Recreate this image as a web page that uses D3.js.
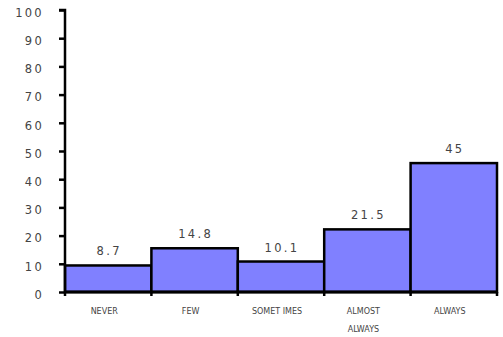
<!DOCTYPE html>
<html>
<head>
<meta charset="utf-8">
<script src="https://cdn.jsdelivr.net/npm/d3@7"></script>
<style>
  html, body { margin: 0; padding: 0; background: #fff; }
  svg { display: block; }
  text { font-family: "DejaVu Sans", Verdana, sans-serif; fill: #444; }
</style>
</head>
<body>
<script>
const categories = ["NEVER", "FEW", "SOMET IMES", "ALMOST\nALWAYS", "ALWAYS"];
const values = [8.7, 14.8, 10.1, 21.5, 45];
const valueLabels = ["8.7", "14.8", "10.1", "21.5", "45"];
const yTicks = [0, 10, 20, 30, 40, 50, 60, 70, 80, 90, 100];

const W = 503, H = 337;
const margin = { left: 65, right: 6, top: 10, bottom: 45 };

const svg = d3.select("body").append("svg").attr("width", W).attr("height", H);

const x = d3.scaleBand().domain(categories).range([margin.left, W - margin.right]).padding(0);
const y = d3.scaleLinear().domain([0, 100]).range([H - margin.bottom, margin.top]);

// bars
svg.append("g").selectAll("rect").data(values).join("rect")
  .attr("x", (d, i) => x(categories[i]))
  .attr("y", d => y(d) - 2)
  .attr("width", x.bandwidth())
  .attr("height", d => y(0) - y(d) + 2)
  .attr("fill", "#8080FF")
  .attr("stroke", "#000")
  .attr("stroke-width", 2.5);

// value labels
svg.append("g").selectAll("text").data(values).join("text")
  .attr("x", (d, i) => x(categories[i]) + x.bandwidth() / 2 + 1)
  .attr("y", d => y(d) - 12)
  .attr("text-anchor", "middle")
  .attr("font-size", 11.5)
  .attr("letter-spacing", 2.3)
  .attr("fill", "#444")
  .text((d, i) => valueLabels[i]);

// y axis
const yAxis = d3.axisLeft(y).tickValues(yTicks).tickSize(6).tickPadding(15).tickFormat(d3.format("d"));
const gy = svg.append("g").attr("transform", `translate(${margin.left},0)`).call(yAxis);
gy.select(".domain").attr("stroke", "#000").attr("stroke-width", 2.5).attr("d", `M-6,${y(100)}H0V${y(0)}`);
gy.selectAll(".tick line").attr("stroke", "#000").attr("stroke-width", 2.5);
gy.selectAll(".tick text")
  .attr("font-size", 11.5)
  .attr("letter-spacing", 2.3)
  .attr("dy", "0.55em")
  .style("font-family", '"DejaVu Sans", Verdana, sans-serif')
  .attr("fill", "#444");

// x axis
const boundaries = categories.map(c => x(c)).concat([x.range()[1]]);
const gx = svg.append("g");
gx.append("line")
  .attr("x1", x.range()[0]).attr("x2", x.range()[1])
  .attr("y1", y(0)).attr("y2", y(0))
  .attr("stroke", "#000").attr("stroke-width", 3);
gx.selectAll("line.tk").data(boundaries).join("line")
  .attr("class", "tk")
  .attr("x1", d => d).attr("x2", d => d)
  .attr("y1", y(0)).attr("y2", y(0) + 4)
  .attr("stroke", "#000").attr("stroke-width", 2.5);

const catText = gx.selectAll("text.cat").data(categories).join("text")
  .attr("class", "cat")
  .attr("text-anchor", "middle")
  .attr("font-size", 8)
  .attr("fill", "#555");
catText.each(function(d) {
  const lines = d.split("\n");
  const t = d3.select(this);
  lines.forEach((ln, j) => {
    t.append("tspan")
      .attr("x", x(d) + x.bandwidth() / 2 - 4)
      .attr("y", y(0) + 22 + j * 18)
      .text(ln);
  });
});
</script>
</body>
</html>
